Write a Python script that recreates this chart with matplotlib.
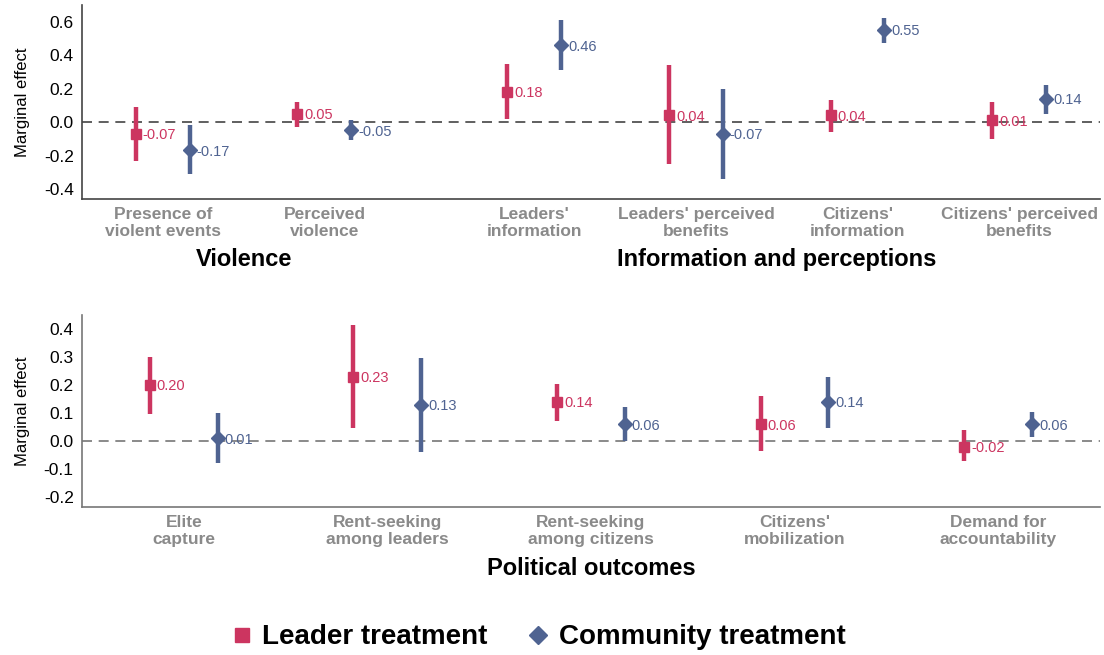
import matplotlib.pyplot as plt
from matplotlib.lines import Line2D

plt.rcParams["font.family"] = ["Liberation Sans", "DejaVu Sans"]

red = "#CC3560"
blue = "#4F6391"

# top panel
top_cats = ["Presence of\nviolent events", "Perceived\nviolence",
            "Leaders'\ninformation", "Leaders' perceived\nbenefits",
            "Citizens'\ninformation", "Citizens' perceived\nbenefits"]
top_pos = [1, 2, 3.3, 4.3, 5.3, 6.3]
top_leader = [-0.07, 0.05, 0.18, 0.04, 0.04, 0.01]
top_leader_lo = [-0.23, -0.03, 0.02, -0.25, -0.06, -0.10]
top_leader_hi = [0.09, 0.12, 0.35, 0.34, 0.13, 0.12]
top_comm = [-0.17, -0.05, 0.46, -0.07, 0.55, 0.14]
top_comm_lo = [-0.31, -0.11, 0.31, -0.34, 0.47, 0.05]
top_comm_hi = [-0.02, 0.01, 0.61, 0.20, 0.62, 0.22]

# bottom panel
bot_cats = ["Elite\ncapture", "Rent-seeking\namong leaders", "Rent-seeking\namong citizens",
            "Citizens'\nmobilization", "Demand for\naccountability"]
bot_pos = [1, 2, 3, 4, 5]
bot_leader = [0.20, 0.23, 0.14, 0.06, -0.02]
bot_leader_lo = [0.095, 0.045, 0.07, -0.035, -0.07]
bot_leader_hi = [0.30, 0.415, 0.205, 0.16, 0.04]
bot_comm = [0.01, 0.13, 0.06, 0.14, 0.06]
bot_comm_lo = [-0.08, -0.04, 0.0, 0.045, 0.015]
bot_comm_hi = [0.10, 0.295, 0.12, 0.23, 0.105]

off = 1 / 6

fig = plt.figure(figsize=(11.04, 6.55), dpi=100)
ax1 = fig.add_axes([0.0743, 0.6962, 0.922, 0.2962])
ax2 = fig.add_axes([0.0743, 0.226, 0.922, 0.293])


def draw(ax, pos, lv, llo, lhi, cv, clo, chi, spine_col, zero_col):
    for i, p in enumerate(pos):
        ax.vlines(p - off, llo[i], lhi[i], color=red, lw=3.2, zorder=3)
        ax.plot(p - off, lv[i], marker="s", ms=7.5, color=red, zorder=4)
        ax.annotate(f"{lv[i]:.2f}", (p - off, lv[i]), xytext=(5, -1), textcoords="offset points",
                    color=red, fontsize=10.5, va="center", ha="left", zorder=5)
        ax.vlines(p + off, clo[i], chi[i], color=blue, lw=3.2, zorder=3)
        ax.plot(p + off, cv[i], marker="D", ms=7.5, color=blue, zorder=4)
        ax.annotate(f"{cv[i]:.2f}", (p + off, cv[i]), xytext=(5, -1), textcoords="offset points",
                    color=blue, fontsize=10.5, va="center", ha="left", zorder=5)
    ax.axhline(0, color=zero_col, lw=1.2, ls=(0, (6, 4)), zorder=1)
    for s in ["top", "right"]:
        ax.spines[s].set_visible(False)
    for s in ["left", "bottom"]:
        ax.spines[s].set_color(spine_col)
        ax.spines[s].set_linewidth(1.2)
    ax.tick_params(length=0, labelsize=12.5, pad=6)
    ax.set_ylabel("Marginal effect", fontsize=12, labelpad=10)


draw(ax1, top_pos, top_leader, top_leader_lo, top_leader_hi,
     top_comm, top_comm_lo, top_comm_hi, "#444444", "#444444")
ax1.set_xlim(0.5, 6.8)
ax1.set_ylim(-0.46, 0.70)
ax1.set_yticks([-0.4, -0.2, 0.0, 0.2, 0.4, 0.6])
ax1.set_yticklabels([f"{v:.1f}" for v in [-0.4, -0.2, 0.0, 0.2, 0.4, 0.6]])
ax1.set_xticks(top_pos)
ax1.set_xticklabels(top_cats, color="#8a8a8a", fontweight="bold", fontsize=12.5, linespacing=1.15)
ax1.text(1.5, -0.82, "Violence", ha="center", va="center", fontsize=17, fontweight="bold")
ax1.text(4.8, -0.82, "Information and perceptions", ha="center", va="center", fontsize=17,
         fontweight="bold")

draw(ax2, bot_pos, bot_leader, bot_leader_lo, bot_leader_hi,
     bot_comm, bot_comm_lo, bot_comm_hi, "#777777", "#777777")
ax2.set_xlim(0.5, 5.5)
ax2.set_ylim(-0.236, 0.45)
bt = [-0.2, -0.1, 0.0, 0.1, 0.2, 0.3, 0.4]
ax2.set_yticks(bt)
ax2.set_yticklabels([f"{v:.1f}" for v in bt])
ax2.set_xticks(bot_pos)
ax2.set_xticklabels(bot_cats, color="#8a8a8a", fontweight="bold", fontsize=12.5, linespacing=1.15)
ax2.text(3, -0.455, "Political outcomes", ha="center", va="center", fontsize=17, fontweight="bold")

handles = [Line2D([], [], ls="none", marker="s", ms=10, color=red),
           Line2D([], [], ls="none", marker="D", ms=9, color=blue)]
fig.legend(handles, ["Leader treatment", "Community treatment"], loc="center",
           bbox_to_anchor=(0.486, 0.027), ncol=2, frameon=False, handlelength=1.0,
           handletextpad=0.25, columnspacing=1.3, prop={"size": 20, "weight": "bold"})

fig.savefig("out.png", dpi=100)
